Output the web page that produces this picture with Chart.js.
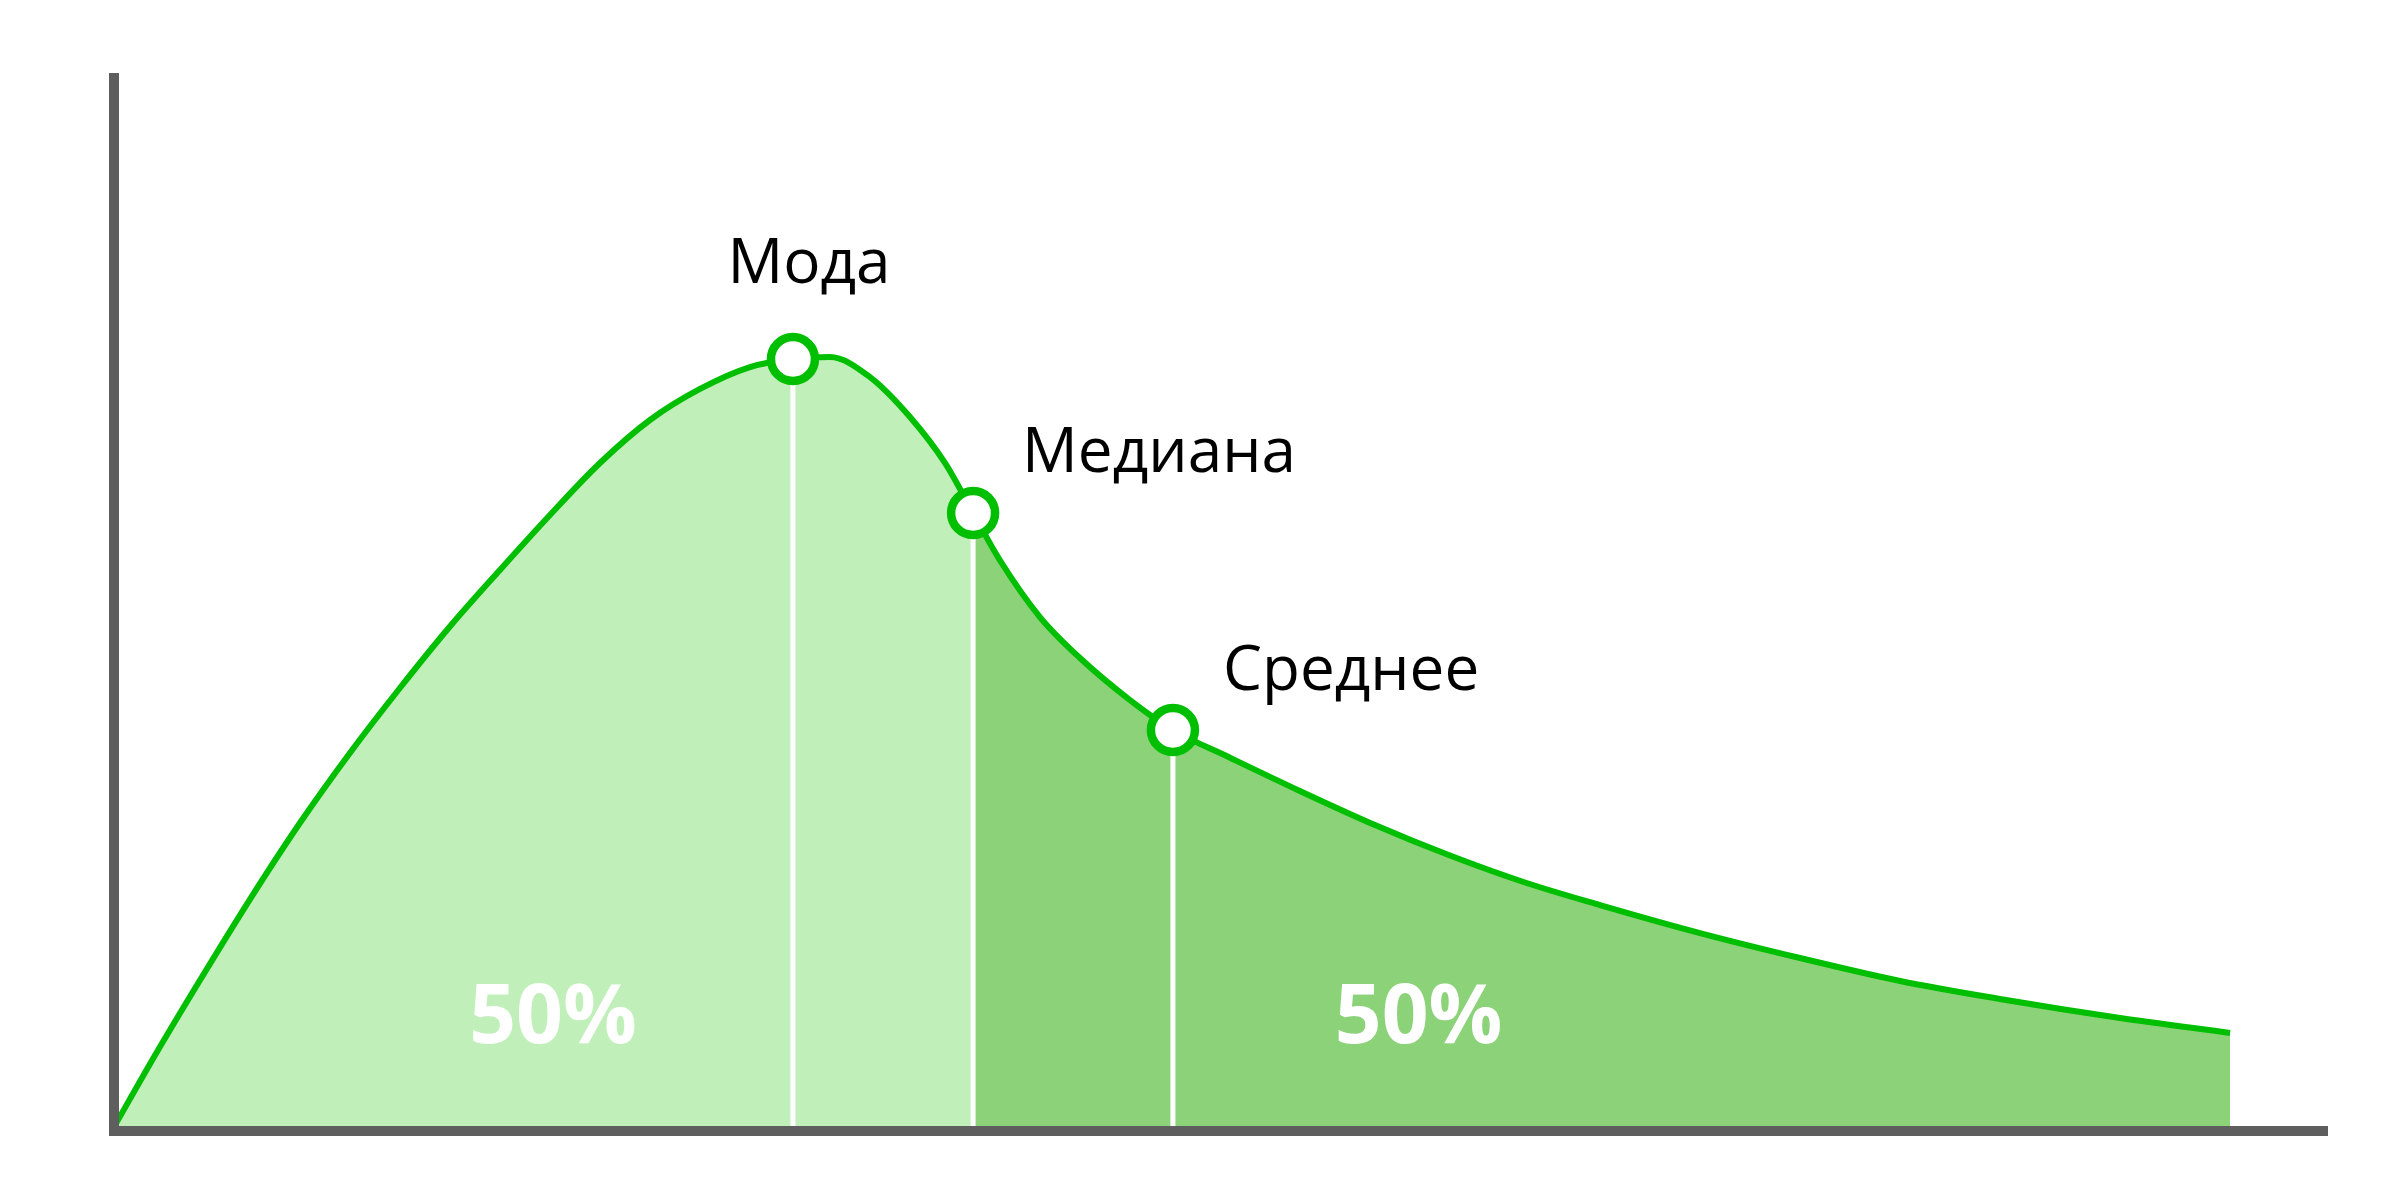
<!DOCTYPE html>
<html>
<head>
<meta charset="utf-8">
<script src="https://cdn.jsdelivr.net/npm/chart.js@4"></script>
<style>
  html, body { margin: 0; padding: 0; background: #fff; }
  #wrap { width: 2400px; height: 1200px; position: relative; }
</style>
</head>
<body>
<div id="wrap"><canvas id="grafico"></canvas></div>
<script>
// curva da distribuição (x e densidade, unidades arbitrárias 0..100)
const curveX = [0, 1.94, 3.89, 6.15, 8.40, 10.66, 12.92, 15.18, 17.44, 19.70, 21.96, 24.22, 26.48, 28.74, 30.68, 32.35, 34.16, 35.97, 37.55, 38.82, 40.04, 41.84, 43.65, 45.91, 47.85, 50.43, 53.59, 56.98, 60.37, 63.76, 67.15, 71.67, 76.19, 80.71, 85.22, 90.65, 95.62];
const curveY = [0.38, 7.50, 14.34, 22.03, 29.25, 35.90, 42.07, 47.91, 53.28, 58.50, 63.44, 67.52, 70.47, 72.55, 73.31, 73.50, 71.60, 67.81, 63.44, 58.69, 54.18, 48.81, 44.92, 40.93, 38.08, 35.45, 32.29, 29.06, 26.16, 23.60, 21.46, 18.80, 16.43, 14.25, 12.54, 10.73, 9.31];

// moda, mediana, média
const markerLabels = ["Мода", "Медиана", "Среднее"];
const markerX = [30.68, 38.82, 47.85];
const markerY = [73.31, 58.69, 38.08];

const shareLabels = ["50%", "50%"];

const corLinha = "#00be00";
const corClara = "#c1efb9";
const corEscura = "#8bd279";
const corEixo = "#5e5e5e";

const pontosCurva = curveX.map((x, i) => ({ x: x, y: curveY[i] }));
const medianaX = markerX[1];

const linhasBrancas = markerX.map((x, i) => ({
  type: "line",
  data: [{ x: x, y: 0 }, { x: x, y: markerY[i] }],
  borderColor: "#ffffff",
  borderWidth: 5,
  pointRadius: 0,
  fill: false,
  order: 2
}));

// textos: rótulos dos marcadores e os 50%
const textosPlugin = {
  id: "textos",
  afterDatasetsDraw(chart) {
    const ctx = chart.ctx;
    const sx = chart.scales.x;
    const sy = chart.scales.y;
    ctx.save();
    ctx.fillStyle = "#000";
    ctx.font = "400 62px 'Open Sans'";
    ctx.textBaseline = "alphabetic";

    const px = markerX.map(v => sx.getPixelForValue(v));
    const py = markerY.map(v => sy.getPixelForValue(v));

    ctx.textAlign = "center";
    ctx.fillText(markerLabels[0], px[0] + 16, py[0] - 76);
    ctx.textAlign = "left";
    ctx.fillText(markerLabels[1], px[1] + 49, py[1] - 41);
    ctx.fillText(markerLabels[2], px[2] + 50, py[2] - 40);

    ctx.fillStyle = "#ffffff";
    ctx.font = "700 82px 'Open Sans'";
    ctx.textAlign = "center";
    const base = sy.getPixelForValue(8.36);
    ctx.fillText(shareLabels[0], sx.getPixelForValue(19.84), base);
    ctx.fillText(shareLabels[1], sx.getPixelForValue(58.95), base);
    ctx.restore();
  }
};

const eixo = {
  min: 0,
  max: 100,
  grid: { display: false, drawTicks: false, tickLength: 0 },
  ticks: { display: false },
  border: { display: true, color: corEixo, width: 10, z: 1 }
};

new Chart(document.getElementById("grafico"), {
  type: "line",
  data: {
    datasets: [
      {
        data: markerX.map((x, i) => ({ x: x, y: markerY[i] })),
        showLine: false,
        pointRadius: 22,
        pointBorderWidth: 8.5,
        pointBackgroundColor: "#ffffff",
        pointBorderColor: corLinha,
        fill: false,
        order: -1
      },
      {
        data: pontosCurva,
        borderColor: corLinha,
        borderWidth: 6,
        pointRadius: 0,
        cubicInterpolationMode: "monotone",
        fill: "origin",
        backgroundColor: corClara,
        segment: {
          backgroundColor: c => (c.p0.parsed.x >= medianaX ? corEscura : corClara)
        },
        order: 0
      },
      ...linhasBrancas
    ]
  },
  options: {
    responsive: true,
    maintainAspectRatio: false,
    devicePixelRatio: 1,
    animation: false,
    layout: { padding: { left: 114, top: 78, right: 73, bottom: 69 } },
    scales: {
      x: Object.assign({ type: "linear" }, eixo),
      y: Object.assign({ type: "linear" }, eixo)
    },
    plugins: {
      legend: { display: false },
      tooltip: { enabled: false },
      filler: { drawTime: "beforeDatasetsDraw" }
    }
  },
  plugins: [textosPlugin]
});
</script>
</body>
</html>
